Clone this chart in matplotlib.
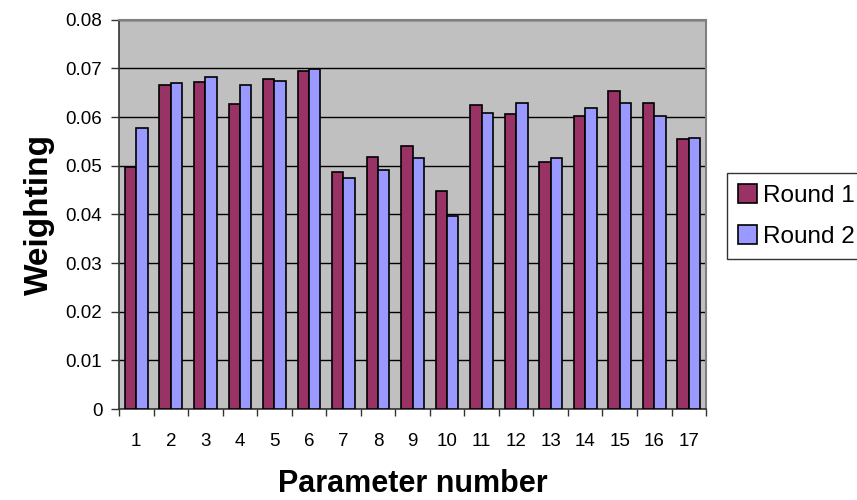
import matplotlib
matplotlib.use('Agg')
import matplotlib.pyplot as plt
import numpy as np

plt.rcParams['font.family'] = ['Liberation Sans', 'DejaVu Sans']

params = list(range(1, 18))
round1 = [0.0498, 0.0665, 0.0672, 0.0626, 0.0679, 0.0695, 0.0488, 0.0518, 0.0541,
          0.0448, 0.0625, 0.0606, 0.0508, 0.0603, 0.0653, 0.0629, 0.0554]
round2 = [0.0577, 0.0669, 0.0682, 0.0665, 0.0675, 0.0698, 0.0475, 0.0491, 0.0515,
          0.0396, 0.0609, 0.0629, 0.0515, 0.0619, 0.0629, 0.0603, 0.0557]
yticks = [0, 0.01, 0.02, 0.03, 0.04, 0.05, 0.06, 0.07, 0.08]
ylabels = ['0', '0.01', '0.02', '0.03', '0.04', '0.05', '0.06', '0.07', '0.08']

fig = plt.figure(figsize=(8.57, 5), dpi=100)
ax = fig.add_axes([0.1389, 0.182, 0.685, 0.7786])
ax.set_facecolor('#C0C0C0')

x = np.array(params)
w = 0.33
ax.bar(x - w / 2, round1, w, color='#993366', edgecolor='black', linewidth=1.2,
       label='Round 1', zorder=3)
ax.bar(x + w / 2, round2, w, color='#9999FF', edgecolor='black', linewidth=1.2,
       label='Round 2', zorder=3)

ax.set_xlim(0.5, 17.5)
ax.set_ylim(0, 0.08)
ax.set_yticks(yticks)
ax.set_yticklabels(ylabels, fontsize=13.5)
ax.set_xticks(x)
ax.set_xticklabels([str(p) for p in params], fontsize=13.5)
ax.set_xticks(np.arange(0.5, 18, 1), minor=True)
ax.tick_params(axis='x', which='major', length=0, pad=17)
ax.tick_params(axis='x', which='minor', length=5, width=1, color='#333333')
ax.tick_params(axis='y', length=6, width=1, color='#333333', pad=6)
ax.grid(axis='y', color='black', linewidth=1, zorder=1)
ax.set_axisbelow(True)

for s in ['top', 'right']:
    ax.spines[s].set_color('#808080')
    ax.spines[s].set_linewidth(1.5)
for s in ['left', 'bottom']:
    ax.spines[s].set_color('#333333')
    ax.spines[s].set_linewidth(1.2)

ax.set_xlabel('Parameter number', fontsize=22, fontweight='bold', labelpad=14)
ax.set_ylabel('Weighting', fontsize=24, fontweight='bold', labelpad=8)

leg = fig.legend(loc='upper left', bbox_to_anchor=(0.848, 0.654), fontsize=17.5,
                 frameon=True, fancybox=False, edgecolor='black',
                 handlelength=0.8, handleheight=0.8, handletextpad=0.25,
                 borderpad=0.45, labelspacing=0.75, borderaxespad=0)
leg.get_frame().set_linewidth(1)

fig.savefig('out.png', dpi=100)
